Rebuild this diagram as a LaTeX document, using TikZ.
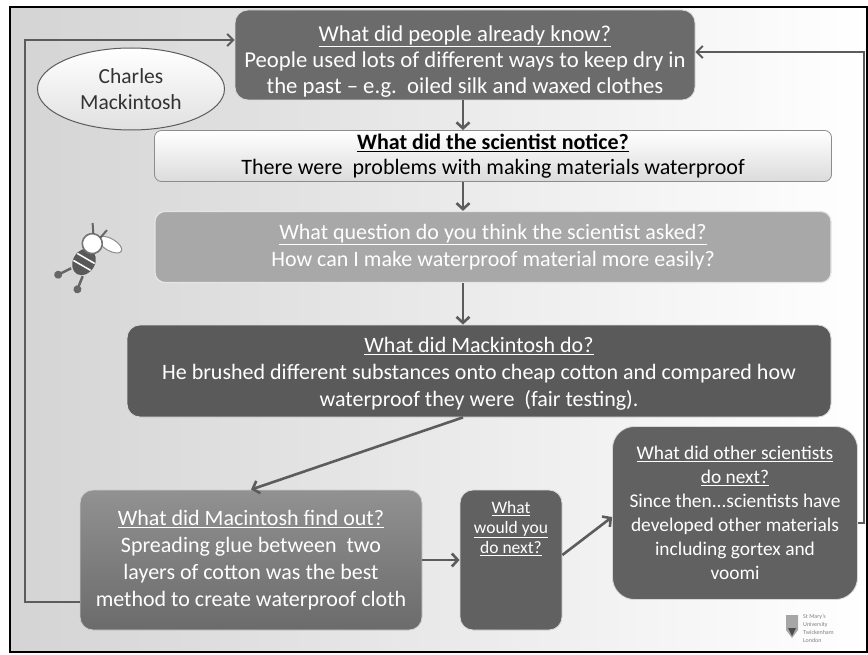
\documentclass[tikz,border=0pt]{standalone}
\usepackage{fontspec}
\setmainfont{Carlito}
\usetikzlibrary{positioning,arrows.meta,shapes.geometric}
\definecolor{bgleft}{HTML}{D4D4D4}
\definecolor{knowgray}{HTML}{6B6B6B}
\definecolor{askgray}{HTML}{A8A8A8}
\definecolor{dogray}{HTML}{5A5A5A}
\definecolor{nextgray}{HTML}{616161}
\definecolor{linegray}{HTML}{5C5C5C}

\begin{document}
\begin{tikzpicture}[x=1pt,y=-1pt,
  qbox/.style={rounded corners=13pt, align=center, inner sep=0pt, text=white, draw=white!85!black, line width=0.8pt,
    font=\fontsize{22}{27}\selectfont},
  flow/.style={draw=linegray, line width=2.6pt, -{Straight Barb[length=6pt,width=13pt]}},
  loop/.style={draw=linegray, line width=2pt, -{Straight Barb[length=6pt,width=12pt]}}]

\useasboundingbox (0,0) rectangle (868,655);

% frame and background
\fill[left color=bgleft, right color=white] (10,7) rectangle (867,652);
\draw[line width=1.4pt] (10,7) rectangle (867,652);

% question boxes
\node[qbox, fill=knowgray, minimum width=460pt, minimum height=90pt, font=\fontsize{22.7}{26}\selectfont] (know) at (465,55)
  {\rule{0pt}{29pt}\underline{What did people already know?}\\
   People used lots of different ways to keep dry in\\
   the past -- e.g.\ \ oiled silk and waxed clothes};

\node[ellipse, draw=linegray, line width=1pt, top color=white, bottom color=black!12, text=black!80,
  minimum width=187pt, minimum height=82pt, align=center, font=\fontsize{21.5}{26}\selectfont] (name) at (131,89)
  {Charles\\Mackintosh};

\node[qbox, text=black, draw=black!45, top color=white, bottom color=black!14,
  rounded corners=7pt, minimum width=677pt, minimum height=51pt, font=\fontsize{22}{25}\selectfont] (notice) at (493,156)
  {\textbf{\underline{What did the scientist notice?}}\\
   There were\ \ problems with making materials waterproof};

\node[qbox, fill=askgray, draw=white!90!black, line width=1.2pt, rounded corners=10pt,
  minimum width=676pt, minimum height=71pt] (ask) at (493,247)
  {\underline{What question do you think the scientist asked?}\\
   How can I make waterproof material more easily?};

\node[qbox, fill=dogray, minimum width=704pt, minimum height=92pt] (do) at (479,371)
  {\rule{0pt}{21pt}\underline{What did Mackintosh do?}\\
   He brushed different substances onto cheap cotton and compared how\\
   waterproof they were\ \ (fair testing).};

\node[qbox, top color=black!43, bottom color=black!58, draw=white!80!black,
  minimum width=342pt, minimum height=140pt] (find) at (251,560)
  {\underline{What did Macintosh find out?}\\
   Spreading glue between\ \ two\\
   layers of cotton was the best\\
   method to create waterproof cloth};

\node[qbox, fill=nextgray, minimum width=102pt, minimum height=140pt] (would) at (511,560) {};
\node[below=8pt of would.north, align=center, text=white, font=\fontsize{17.5}{20}\selectfont] (wouldtxt)
  {\underline{What}\\ \underline{would you}\\ \underline{do next?}};

\node[qbox, fill=nextgray, rounded corners=22pt, minimum width=245pt, minimum height=173pt,
  font=\fontsize{19.4}{24}\selectfont] (other) at (735,513)
  {\underline{What did other scientists}\\
   \underline{do next?}\\
   Since then...scientists have\\
   developed other materials\\
   including gortex and\\
   voomi};

% arrows between the steps
\draw[flow] (know.south -| 463,0) -- (notice.north -| 463,0);
\draw[flow] (notice.south -| 463,0) -- (ask.north -| 463,0);
\draw[flow] (ask.south -| 463,0) -- (do.north -| 463,0);
\draw[flow] (do.south -| 463,0) -- (find.north);
\draw[flow] (find.east) -- (would.west);
\draw[flow] ([yshift=5pt]would.east) -- ([yshift=-4pt]other.west);

% feedback loops back to the start
\draw[loop] ([yshift=-10pt]other.east) -- ++(6,0) |- ([yshift=3pt]know.east);
\draw[loop] ([yshift=-42pt]find.west) -- (25,602) |- ([yshift=15pt]know.west);

% little bee
\begin{scope}[shift={(88,255)}, rotate=-30]
  \fill[white, draw=black!45, line width=1pt] (14,-20) ellipse (13pt and 6pt);
  \fill[black!65] (0,8) ellipse (11pt and 14pt);
  \draw[white, line width=1.5pt] (-10,4) -- (10,4) (-10,12) -- (10,12);
  \fill[white, draw=black!55, line width=1.6pt] (-2,-12) circle (10pt);
  \draw[black!60, line width=2pt] (-6,-21) -- (-12,-30) (2,-21) -- (4,-31);
  \draw[black!60, line width=2.5pt] (-8,20) -- (-16,32) (6,21) -- (8,35);
  \fill[black!60] (-16,32) circle (4pt) (8,35) circle (4pt);
\end{scope}

% college badge
\fill[black!35] (786,615) -- (798,615) -- (798,630) -- (792,638) -- (786,630) -- cycle;
\fill[black!70] (788,628) -- (796,628) -- (792,636) -- cycle;
\node[anchor=north west, align=left, inner sep=0pt, text=black!50, font=\fontsize{6}{8}\selectfont] (badge) at (803,614)
  {St Mary's\\University\\Twickenham\\London};

\end{tikzpicture}
\end{document}
